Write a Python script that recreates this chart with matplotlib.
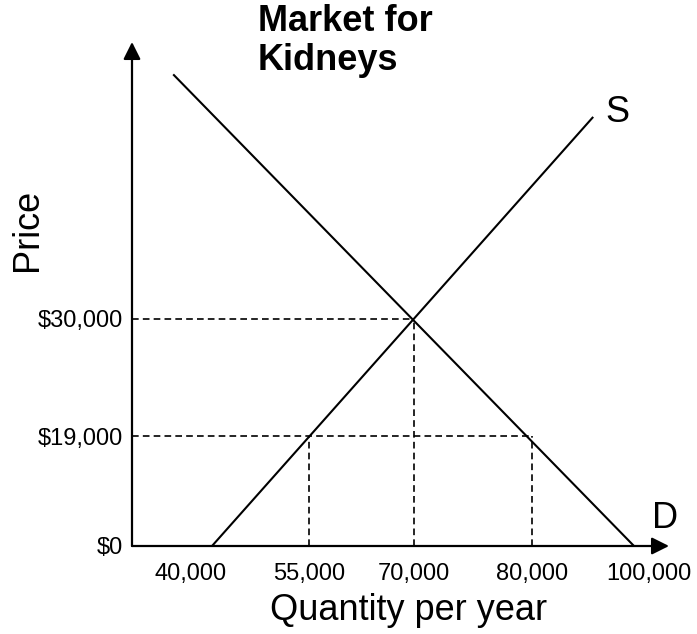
import numpy as np
import matplotlib
matplotlib.use("Agg")
import matplotlib.pyplot as plt
from matplotlib.transforms import ScaledTranslation

plt.rcParams["font.family"] = ["Liberation Sans", "DejaVu Sans"]

# chart values (schematic market diagram)
qty_ticks = [40000, 55000, 70000, 80000, 100000]
price_ticks = [0, 19000, 30000]

supply_q = [40000, 92000]
supply_p = [0, 49000]
demand_q = [34000, 100000]
demand_p = [53000, 0]

eq_q, eq_p = 70000, 30000
ceiling_p = 19000
qs_ceiling, qd_ceiling = 55000, 80000

W, H = 697, 634


def piecewise(xp, fp):
    # linear interp with linear extension past both ends
    xp = np.asarray(xp, float)
    fp = np.asarray(fp, float)
    lo_slope = (fp[1] - fp[0]) / (xp[1] - xp[0])
    hi_slope = (fp[-1] - fp[-2]) / (xp[-1] - xp[-2])

    def f(v):
        v = np.asarray(v, float)
        out = np.interp(v, xp, fp)
        out = np.where(v < xp[0], fp[0] + (v - xp[0]) * lo_slope, out)
        out = np.where(v > xp[-1], fp[-1] + (v - xp[-1]) * hi_slope, out)
        return out
    return f


# the diagram is not drawn to scale: tick values sit at these screen spots
x_spots = [212, 309, 414, 532, 634]
y_spots = [0, 110, 227]
fx, ix = piecewise(qty_ticks, x_spots), piecewise(x_spots, qty_ticks)
fy, iy = piecewise(price_ticks, y_spots), piecewise(y_spots, price_ticks)

fig = plt.figure(figsize=(W / 100, H / 100), dpi=100)
ax = fig.add_axes([132 / W, (H - 546) / H, (669 - 132) / W, (546 - 42) / H])
ax.set_xscale("function", functions=(fx, ix))
ax.set_yscale("function", functions=(fy, iy))
x0, x1 = float(ix(132)), float(ix(669))
y0, y1 = 0.0, float(iy(504))
ax.set_xlim(x0, x1)
ax.set_ylim(y0, y1)

for s in ax.spines.values():
    s.set_visible(False)
ax.patch.set_visible(False)

arrow = dict(arrowstyle="-|>,head_length=0.4,head_width=0.2", lw=1.6, color="black",
             mutation_scale=26, shrinkA=0, shrinkB=0)
ax.annotate("", xy=(1, 0), xytext=(0, 0), xycoords="axes fraction", arrowprops=arrow)
ax.annotate("", xy=(0, 1), xytext=(0, 0), xycoords="axes fraction", arrowprops=arrow)

ax.plot(supply_q, supply_p, color="black", lw=1.5, solid_capstyle="butt")
ax.plot(demand_q, demand_p, color="black", lw=1.5, solid_capstyle="butt")

dash = dict(color="black", lw=1.2, linestyle=(0, (4, 2.5)))
ax.plot([x0, eq_q], [eq_p, eq_p], **dash)
ax.plot([eq_q, eq_q], [0, eq_p], **dash)
ax.plot([x0, qd_ceiling], [ceiling_p, ceiling_p], **dash)
ax.plot([qs_ceiling, qs_ceiling], [0, ceiling_p], **dash)
ax.plot([qd_ceiling, qd_ceiling], [0, ceiling_p], **dash)

ax.set_xticks(qty_ticks, [f"{q:,}" for q in qty_ticks])
ax.set_yticks(price_ticks, [f"${p:,}" for p in price_ticks])
ax.xaxis.set_minor_locator(matplotlib.ticker.NullLocator())
ax.yaxis.set_minor_locator(matplotlib.ticker.NullLocator())
ax.tick_params(axis="x", length=0, pad=12, labelsize=17)
ax.tick_params(axis="y", length=0, pad=6.5, labelsize=17)

# end labels sit a bit off their ticks in the original
shifts = {0: -21, 4: 15}
for i, tick in enumerate(ax.xaxis.get_major_ticks()):
    if i in shifts:
        lab = tick.label1
        lab.set_transform(lab.get_transform() + ScaledTranslation(shifts[i] / 100, 0, fig.dpi_scale_trans))


def px(x, y):
    return x / W, 1 - y / H


# baseline of the last title line
fig.text(*px(258, 70), "Market for\nKidneys", fontsize=26, fontweight="bold",
         ha="left", va="baseline", linespacing=1.15)
fig.text(*px(28, 230), "Price", fontsize=26, rotation=90, ha="center", va="center")
fig.text(*px(409, 620), "Quantity per year", fontsize=26, ha="center", va="baseline")
fig.text(*px(617, 113), "S", fontsize=26, ha="center", va="center")
fig.text(*px(665, 518), "D", fontsize=26, ha="center", va="center")

fig.savefig("out.png", dpi=100)
